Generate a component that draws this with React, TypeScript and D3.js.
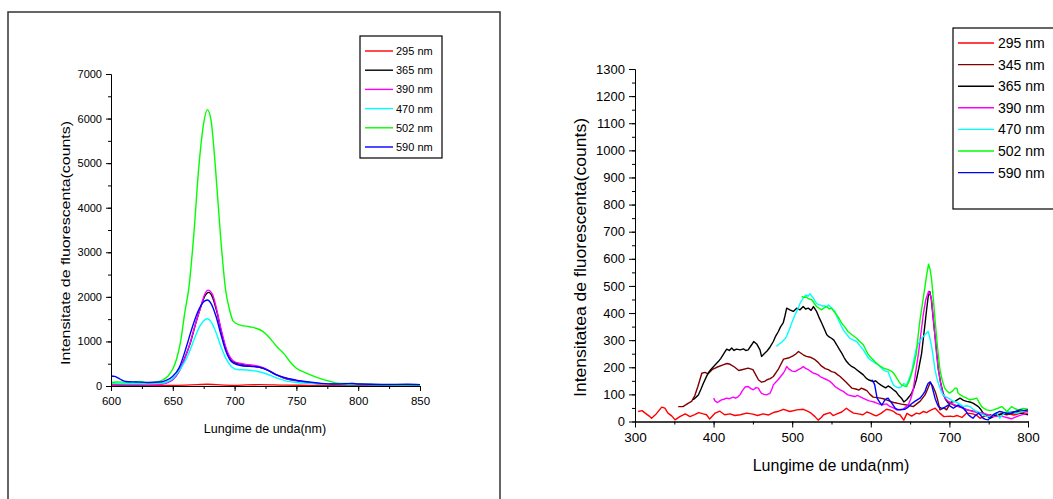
import { useEffect, useRef } from "react";
import * as d3 from "d3";

type Pt = [number, number];

// ---- left panel (600-850 nm), smooth spectra ----
const L295: Pt[] = [[600, 20], [620, 15], [640, 10], [660, 20], [670, 30], [678, 40], [685, 30], [700, 15], [710, 25], [720, 30], [740, 20], [760, 15], [780, 10], [800, 10], [850, 10]];
const L365: Pt[] = [[600, 40], [610, 30], [620, 30], [630, 40], [640, 50], [645, 80], [650, 150], [655, 330], [660, 650], [664, 950], [668, 1350], [672, 1720], [676, 2020], [679, 2100], [682, 2000], [685.5, 1680], [689, 1250], [693, 820], [697, 600], [700, 530], [705, 490], [710, 470], [716, 450], [723, 400], [728, 340], [734, 250], [740, 180], [750, 120], [760, 80], [772, 50], [790, 40], [800, 35], [820, 30], [850, 25]];
const L390: Pt[] = [[600, 30], [610, 25], [620, 25], [630, 30], [640, 40], [645, 65], [650, 140], [655, 330], [660, 640], [664, 960], [668, 1360], [672, 1720], [676, 2070], [678.5, 2150], [682, 2060], [685.5, 1720], [689, 1280], [693.5, 820], [699, 560], [704, 510], [710, 480], [716, 460], [723, 410], [728, 340], [734, 250], [740, 180], [750, 120], [760, 75], [772, 45], [790, 40], [800, 35], [820, 30], [850, 25]];
const L470: Pt[] = [[600, 60], [615, 50], [630, 50], [640, 60], [645, 90], [650, 170], [655, 340], [660, 560], [664, 810], [668, 1100], [672, 1350], [676, 1490], [678, 1510], [681, 1440], [685, 1200], [689, 880], [693.5, 590], [698, 420], [702, 370], [710, 360], [718, 330], [725, 280], [734, 180], [742, 110], [750, 80], [760, 60], [780, 40], [800, 30], [850, 25]];
const L502: Pt[] = [[600, 80], [605, 90], [615, 85], [623, 100], [630, 70], [637, 90], [642, 140], [646, 220], [650, 380], [653, 600], [656, 950], [660, 1700], [663, 2200], [667, 3400], [671, 4900], [675, 5900], [678, 6200], [681, 5950], [684.5, 4900], [688.6, 3370], [692.7, 2160], [696, 1700], [699, 1450], [704, 1370], [712, 1330], [718, 1290], [723, 1220], [727, 1120], [731, 990], [735, 860], [740, 720], [745, 540], [750, 400], [758, 290], [766, 200], [775, 120], [785, 60], [795, 60], [800, 45], [810, 35], [830, 25], [850, 20]];
const L590: Pt[] = [[600, 225], [603, 215], [607, 160], [612, 100], [620, 90], [630, 80], [640, 90], [645, 130], [650, 220], [655, 400], [661, 880], [665, 1250], [670, 1650], [675, 1890], [678, 1930], [681, 1850], [685, 1560], [689, 1150], [693, 780], [697, 560], [700, 500], [705, 460], [712, 440], [720, 420], [727, 350], [733, 260], [740, 190], [750, 130], [760, 90], [770, 60], [780, 45], [790, 50], [795, 55], [800, 45], [820, 35], [840, 40], [850, 30]];

// ---- right panel (300-800 nm), noisy spectra ----
const R295: Pt[] = [[304, 37], [309, 40], [313, 31], [319, 18], [321, 12], [327, 28], [334, 53], [338, 49], [342, 31], [347, 20], [351, 6], [357, 18], [364, 28], [370, 18], [376, 25], [381, 33], [387, 28], [391, 25], [395, 9], [402, 31], [408, 38], [414, 25], [421, 28], [427, 22], [434, 25], [442, 31], [450, 27], [456, 22], [463, 28], [470, 24], [476, 33], [483, 38], [489, 45], [497, 37], [506, 43], [514, 45], [518, 40], [523, 33], [529, 18], [533, 5], [537, 15], [540, 25], [548, 33], [552, 22], [557, 28], [563, 35], [569, 49], [574, 38], [578, 31], [584, 28], [590, 25], [595, 35], [599, 31], [603, 25], [607, 21], [613, 30], [620, 45], [625, 42], [629, 37], [633, 28], [637, 25], [642, 5], [646, 30], [652, 20], [658, 31], [662, 28], [667, 37], [671, 33], [675, 40], [682, 49], [688, 30], [693, 18], [701, 20], [705, 18], [710, 22], [716, 15], [722, 31], [730, 28], [735, 22], [739, 12], [745, 20], [752, 25], [758, 20], [762, 22], [768, 30], [775, 28], [782, 24], [790, 30], [795, 35], [800, 37]];
const R345: Pt[] = [[355, 55], [361, 55], [365, 62], [368, 68], [372, 74], [376, 95], [380, 129], [385, 178], [389, 181], [393, 176], [398, 191], [404, 200], [412, 209], [417, 214], [421, 211], [427, 200], [432, 188], [436, 191], [444, 197], [450, 191], [454, 170], [457, 154], [461, 145], [465, 148], [468, 154], [472, 158], [476, 166], [482, 191], [489, 230], [495, 234], [501, 242], [505, 250], [508, 258], [514, 246], [518, 240], [523, 237], [529, 228], [533, 218], [537, 205], [542, 195], [546, 191], [550, 184], [554, 181], [558, 172], [561, 166], [565, 155], [569, 144], [573, 132], [576, 123], [582, 119], [585, 116], [588, 123], [592, 118], [595, 114], [599, 100], [603, 90], [608, 88], [612, 86], [616, 84], [620, 80], [624, 75], [629, 70], [633, 68], [639, 64], [645.6, 61], [650, 58], [654, 55], [658, 64], [662.6, 74], [669, 98], [672, 118], [675.6, 144], [679, 130], [682, 110], [685, 80], [688, 43], [693, 50], [696.5, 43], [701, 68], [706, 60], [712, 55], [717, 50], [722, 43], [728, 40], [734, 36], [739, 31], [745, 24], [752, 18], [760, 22], [767, 28], [773, 25], [780, 30], [787, 35], [793, 38], [800, 43]];
const R365: Pt[] = [[374, 80], [377, 88], [380.6, 98], [384, 120], [387, 141], [390, 160], [393, 178], [396, 190], [400, 203], [406, 221], [409, 232], [412, 246], [416.6, 267], [420, 262], [423, 271], [426, 262], [429, 267], [434, 264], [438, 268], [441, 262], [444, 264], [448.4, 283], [451, 295], [454.8, 286], [459, 264], [461, 240], [465, 252], [468, 260], [471.7, 274], [476, 295], [479, 315], [482.4, 332], [485, 348], [488.7, 365], [491, 392], [493, 418], [497, 412], [501.4, 406], [505.7, 418], [510, 412], [514, 424], [517, 415], [520.5, 418], [524, 410], [527, 424], [531, 406], [534, 385], [537.5, 363], [541, 340], [544, 320], [547, 312], [550, 307], [553, 300], [556.6, 283], [560, 266], [563, 252], [566, 236], [569, 222], [572, 212], [575.6, 203], [579, 198], [582, 191], [586, 182], [590.5, 172], [594, 160], [597, 154], [603, 147], [606, 150], [609.6, 141], [613, 134], [616, 129], [619, 124], [622, 131], [625, 126], [628.7, 117], [632, 110], [635, 98], [639, 86], [642, 72], [645.6, 80], [649, 92], [652, 105], [655, 125], [658, 154], [661, 195], [664.7, 252], [668, 335], [671, 412], [673, 460], [675, 480], [677, 450], [679.6, 375], [683, 280], [686, 191], [689, 140], [692, 105], [695, 82], [698.6, 68], [703, 72], [707, 74], [710, 80], [713.5, 86], [718, 78], [722, 74], [726, 72], [730, 68], [733, 62], [736.8, 55], [740, 44], [743, 31], [747, 22], [751.6, 12], [756, 18], [760, 25], [767, 28], [773, 31], [780, 35], [785.6, 37], [792, 30], [800, 25]];
const R390: Pt[] = [[400, 86], [402, 75], [405, 70], [408, 76], [410, 80], [413, 82], [416.6, 86], [420, 84], [425, 90], [428, 86], [431.5, 92], [434, 100], [436, 111], [440, 127], [444, 129], [447, 122], [450.5, 117], [454, 125], [457, 123], [459, 112], [461, 104], [464, 100], [467.5, 98], [470, 102], [471.7, 104], [474, 118], [476, 135], [479, 145], [482, 154], [485, 165], [488.7, 178], [491, 190], [493, 203], [495, 196], [497, 191], [500, 186], [503.6, 184], [508, 191], [511, 196], [514, 203], [517, 196], [520.5, 191], [524, 184], [527, 178], [530, 176], [533, 172], [536, 165], [539.6, 160], [544, 154], [548, 148], [551, 140], [554.5, 129], [558, 122], [561, 117], [565, 111], [568, 104], [571, 98], [575, 95], [580, 92], [583, 96], [586, 92], [590, 86], [594.7, 80], [598, 76], [601, 74], [604, 72], [607.5, 68], [611, 64], [614, 61], [617, 63], [620, 65], [623, 58], [626.6, 53], [630, 48], [633, 43], [637, 44], [641, 45], [644, 52], [647.7, 61], [651, 85], [654, 117], [657, 180], [660.7, 252], [664, 330], [667, 400], [670, 450], [673.6, 480], [675.5, 470], [677.4, 448], [679.6, 380], [681.7, 313], [684, 240], [686, 191], [689, 140], [692, 98], [695, 84], [698.6, 74], [703, 66], [707, 61], [712, 55], [717.7, 49], [724, 42], [730, 37], [736, 34], [743, 31], [750, 24], [756, 18], [762, 20], [768.6, 18], [774, 14], [779, 10], [784, 16], [788, 21], [794, 26], [800, 31]];
const R470: Pt[] = [[480, 277], [483, 285], [486.6, 292], [490, 302], [493, 314], [495, 330], [497, 344], [499, 360], [501, 375], [503, 390], [505.7, 406], [508, 420], [510, 436], [512, 446], [514, 455], [516, 462], [518, 467], [520, 462], [522.6, 471], [525, 462], [527, 455], [529, 444], [531, 436], [533, 432], [535, 430], [538, 426], [541.7, 427], [544, 422], [546, 430], [548, 424], [550, 418], [552, 412], [554.5, 406], [556.6, 390], [558.7, 375], [562, 355], [565, 338], [569, 322], [573.5, 307], [578, 300], [582, 295], [586, 280], [590.5, 264], [594, 248], [597, 234], [600, 226], [603, 221], [606, 214], [609.6, 209], [613, 198], [616, 190], [619, 186], [622, 184], [625, 160], [628.7, 135], [631, 130], [633, 127], [636, 124], [639, 129], [642, 140], [645.6, 135], [649, 160], [652, 184], [655, 230], [658, 271], [661, 290], [664.7, 307], [667, 314], [669, 320], [671, 326], [673, 332], [675, 310], [677.4, 277], [679.6, 235], [681.7, 191], [684, 160], [686, 141], [689, 115], [692, 98], [695, 92], [698.6, 86], [702, 80], [705, 74], [708, 72], [711, 68], [714, 62], [717.7, 55], [722, 58], [726, 55], [730, 45], [734.7, 37], [739, 30], [743, 25], [747, 20], [751.6, 18], [756, 25], [760, 31], [764, 12], [768, 25], [773, 37], [779, 34], [785.6, 31], [792, 36], [800, 43]];
const R502: Pt[] = [[512, 461], [515, 458], [518, 459], [521, 452], [524.8, 449], [528, 436], [531, 424], [534, 418], [537.5, 412], [541, 420], [544, 424], [547, 415], [550, 418], [553, 406], [556.6, 393], [560, 378], [563, 363], [567, 348], [571, 332], [576, 320], [582, 307], [586, 295], [590.5, 283], [594, 262], [597, 246], [600, 236], [603, 228], [606, 218], [609.6, 209], [613, 202], [616, 197], [619, 194], [622, 191], [626, 186], [629, 178], [631, 170], [633, 160], [636, 146], [639, 135], [642, 132], [645.6, 129], [649, 150], [652, 178], [655, 210], [658, 252], [660, 310], [662.6, 375], [666, 440], [669, 498], [671, 540], [673.5, 580], [675.5, 560], [677.4, 522], [679.6, 450], [681.7, 375], [685, 270], [688, 191], [691, 150], [694, 123], [697, 112], [700, 105], [704, 112], [707, 123], [709.6, 123], [711, 105], [714, 98], [717.7, 92], [722, 86], [726, 80], [730, 82], [734.7, 86], [738, 70], [741, 55], [744, 48], [747.5, 43], [752, 40], [756, 43], [761, 48], [766.6, 55], [770, 46], [773, 37], [776, 45], [779, 55], [783, 48], [787.6, 43], [794, 48], [800, 45]];
const R590: Pt[] = [[601, 154], [603, 148], [605, 135], [606.5, 110], [608, 86], [611, 72], [614, 61], [616, 70], [618, 80], [620, 84], [622, 86], [624, 78], [626.6, 68], [629, 58], [631, 49], [634, 44], [637, 43], [640, 44], [643.5, 45], [647, 52], [650, 61], [653, 68], [656, 74], [659, 80], [662.6, 86], [666, 98], [669, 111], [671, 128], [673, 141], [675.6, 146], [677.4, 135], [679.6, 110], [681.7, 86], [684, 68], [686, 55], [689, 50], [692, 49], [695, 54], [698.6, 61], [702, 55], [705, 49], [708, 55], [711, 61], [714, 55], [717.7, 49], [721, 38], [724, 25], [727, 18], [730, 12], [733, 22], [737, 31], [740, 22], [743, 12], [746, 8], [749.5, 6], [752, 15], [756, 25], [760, 32], [764, 37], [768, 34], [773, 31], [777, 30], [781, 33], [785, 38], [790, 43], [795, 40], [800, 43]];

const leftTicksY = [0, 1000, 2000, 3000, 4000, 5000, 6000, 7000];
const leftTicksX = [600, 650, 700, 750, 800, 850];
const rightTicksY = d3.range(0, 1301, 100);
const rightTicksX = [300, 400, 500, 600, 700, 800];

const leftSeries = [
  { name: "295 nm", color: "#ff0000", data: L295 },
  { name: "365 nm", color: "#000000", data: L365 },
  { name: "390 nm", color: "#ff00ff", data: L390 },
  { name: "470 nm", color: "#00ffff", data: L470 },
  { name: "502 nm", color: "#00ff00", data: L502 },
  { name: "590 nm", color: "#0000ff", data: L590 },
];
const rightSeries = [
  { name: "295 nm", color: "#ff0000", data: R295 },
  { name: "345 nm", color: "#800000", data: R345 },
  { name: "365 nm", color: "#000000", data: R365 },
  { name: "390 nm", color: "#ff00ff", data: R390 },
  { name: "470 nm", color: "#00ffff", data: R470 },
  { name: "502 nm", color: "#00ff00", data: R502 },
  { name: "590 nm", color: "#0000ff", data: R590 },
];

const FONT = "'Liberation Sans', Arial, sans-serif";

const lx = d3.scaleLinear().domain([600, 850]).range([111, 420]);
const ly = d3.scaleLinear().domain([0, 7000]).range([386, 74]);
const rx = d3.scaleLinear().domain([300, 800]).range([635, 1028]);
const ry = d3.scaleLinear().domain([0, 1300]).range([421.5, 69]);

const App = () => {
  const lxRef = useRef<SVGGElement | null>(null);
  const lyRef = useRef<SVGGElement | null>(null);
  const rxRef = useRef<SVGGElement | null>(null);
  const ryRef = useRef<SVGGElement | null>(null);

  useEffect(() => {
    const style = (g: d3.Selection<SVGGElement, unknown, null, undefined>, size: number) => {
      g.selectAll("g").attr("font-family", FONT).attr("font-size", size);
      g.selectAll("path,line").attr("stroke", "#000").attr("stroke-width", 1);
      g.selectAll("text").attr("fill", "#000").attr("font-size", size).attr("font-family", FONT);
    };

    // left axes
    const gLx = d3.select(lxRef.current!);
    gLx.selectAll("*").remove();
    gLx.append("g").call(d3.axisBottom(lx).tickValues(d3.range(600, 851, 25)).tickSize(3).tickSizeOuter(0).tickFormat(() => ""));
    gLx.append("g").call(d3.axisBottom(lx).tickValues(leftTicksX).tickSize(5).tickSizeOuter(0).tickPadding(6).tickFormat(d3.format("d")));
    style(gLx, 11.5);

    const gLy = d3.select(lyRef.current!);
    gLy.selectAll("*").remove();
    gLy.append("g").call(d3.axisLeft(ly).tickValues(d3.range(0, 7001, 500)).tickSize(3).tickSizeOuter(0).tickFormat(() => ""));
    gLy.append("g").call(d3.axisLeft(ly).tickValues(leftTicksY).tickSize(5).tickSizeOuter(0).tickPadding(4).tickFormat(d3.format("d")));
    style(gLy, 11);

    // right axes
    const gRx = d3.select(rxRef.current!);
    gRx.selectAll("*").remove();
    gRx.append("g").call(d3.axisBottom(rx).tickValues(d3.range(300, 801, 50)).tickSize(3).tickSizeOuter(0).tickFormat(() => ""));
    gRx.append("g").call(d3.axisBottom(rx).tickValues(rightTicksX).tickSize(6).tickSizeOuter(0).tickPadding(5).tickFormat(d3.format("d")));
    style(gRx, 13.5);

    const gRy = d3.select(ryRef.current!);
    gRy.selectAll("*").remove();
    gRy.append("g").call(d3.axisLeft(ry).tickValues(d3.range(0, 1301, 50)).tickSize(3).tickSizeOuter(0).tickFormat(() => ""));
    gRy.append("g").call(d3.axisLeft(ry).tickValues(rightTicksY).tickSize(6).tickSizeOuter(0).tickPadding(4).tickFormat(d3.format("d")));
    style(gRy, 13);
  }, []);

  const lineL = d3.line<Pt>().x((d) => lx(d[0])).y((d) => ly(d[1])).curve(d3.curveMonotoneX);
  const lineR = d3.line<Pt>().x((d) => rx(d[0])).y((d) => ry(d[1]));

  return (
    <svg width={1053} height={499} style={{ position: "absolute", left: 0, top: 0, background: "#fff" }} fontFamily={FONT}>
      <rect x={0} y={0} width={1053} height={499} fill="#fff" />
      {/* left panel frame */}
      <rect x={8} y={12} width={492} height={600} fill="none" stroke="#333" strokeWidth={1.5} />

      {leftSeries.map((s) => (
        <path key={"l" + s.name} d={lineL(s.data) || ""} fill="none" stroke={s.color} strokeWidth={1.4} />
      ))}
      <g ref={lxRef} transform={`translate(0,${ly(0)})`} />
      <g ref={lyRef} transform={`translate(${lx(600)},0)`} />
      <text x={265} y={433} textAnchor="middle" fontSize={12.5}>Lungime de unda(nm)</text>
      <text transform={`translate(70,243) rotate(-90)`} textAnchor="middle" fontSize={13} textLength={244} lengthAdjust="spacingAndGlyphs">
        Intensitate de fluorescenta(counts)
      </text>

      {/* left legend */}
      <rect x={360} y={36} width={82} height={122} fill="#fff" stroke="#000" strokeWidth={1.2} />
      {leftSeries.map((s, i) => (
        <g key={"ll" + s.name} transform={`translate(0,${51 + i * 19.2})`}>
          <line x1={365} x2={393} y1={0} y2={0} stroke={s.color} strokeWidth={1.4} />
          <text x={396} y={4} fontSize={11}>{s.name}</text>
        </g>
      ))}

      {/* right panel */}
      {rightSeries.map((s) => (
        <path key={"r" + s.name} d={lineR(s.data) || ""} fill="none" stroke={s.color} strokeWidth={1.4} strokeLinejoin="round" />
      ))}
      <g ref={rxRef} transform={`translate(0,${ry(0)})`} />
      <g ref={ryRef} transform={`translate(${rx(300)},0)`} />
      <text x={831} y={471} textAnchor="middle" fontSize={16}>Lungime de unda(nm)</text>
      <text transform={`translate(586,257.5) rotate(-90)`} textAnchor="middle" fontSize={16} textLength={279} lengthAdjust="spacingAndGlyphs">
        Intensitatea de fluorescenta(counts)
      </text>

      {/* right legend */}
      <rect x={953} y={28} width={120} height={181} fill="#fff" stroke="#000" strokeWidth={1.2} />
      {rightSeries.map((s, i) => (
        <g key={"rl" + s.name} transform={`translate(0,${43 + i * 21.6})`}>
          <line x1={958} x2={994} y1={0} y2={0} stroke={s.color} strokeWidth={1.4} />
          <text x={998} y={5} fontSize={14}>{s.name}</text>
        </g>
      ))}
    </svg>
  );
};

export default App;
